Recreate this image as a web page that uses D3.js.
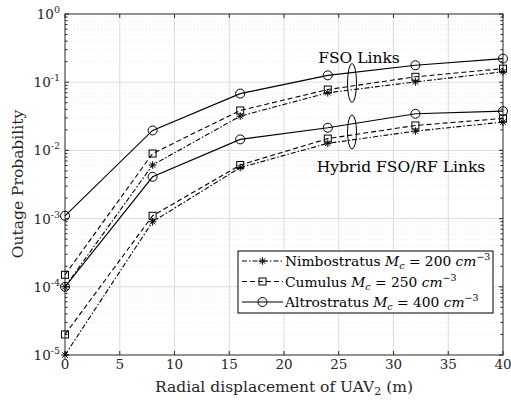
<!DOCTYPE html>
<html lang="en">
<head>
<meta charset="UTF-8">
<title>Outage Probability vs Radial Displacement</title>
<style>
    body { margin: 0; padding: 0; background: #fff; }
    svg { display: block; }
    svg text { font-family: "DejaVu Serif", serif; }
    .grid-major line { stroke: #dcdcdc; stroke-width: 1; }
    .grid-minor line { stroke: #e4e4e4; stroke-width: 0.8; stroke-dasharray: 1,2; }
    .series { fill: none; stroke: #000; stroke-width: 1.1; }
</style>
</head>
<body>
<svg id="chart" width="511" height="406"></svg>
<script src="https://d3js.org/d3.v7.min.js"></script>
<script>
// data
const displacement = [0, 8, 16, 24, 32, 40];

const fsoNimbo   = [1.0e-4, 0.0061, 0.0318, 0.070, 0.101, 0.142];
const fsoCumulus = [1.5e-4, 0.0090, 0.0385, 0.078, 0.120, 0.158];
const fsoAltro   = [1.1e-3, 0.0196, 0.068,  0.126, 0.177, 0.222];

const hybNimbo   = [1.0e-5, 9.0e-4, 0.0056, 0.0127, 0.0192, 0.026];
const hybCumulus = [2.0e-5, 1.1e-3, 0.0061, 0.0149, 0.0232, 0.0294];
const hybAltro   = [1.0e-4, 0.0041, 0.0145, 0.0215, 0.0344, 0.0376];

const xTicks = [0, 5, 10, 15, 20, 25, 30, 35, 40];
const yExps = [0, -1, -2, -3, -4, -5];

const styles = {
    nimbo:   { dash: "5,2,1.5,2", marker: "star" },
    cumulus: { dash: "5,3",       marker: "square" },
    altro:   { dash: null,        marker: "circle" }
};

const series = [
    { values: fsoNimbo,   style: "nimbo" },
    { values: fsoCumulus, style: "cumulus" },
    { values: fsoAltro,   style: "altro" },
    { values: hybNimbo,   style: "nimbo" },
    { values: hybCumulus, style: "cumulus" },
    { values: hybAltro,   style: "altro" }
];

const legendItems = [
    { name: "Nimbostratus", mc: "200", style: "nimbo" },
    { name: "Cumulus", mc: "250", style: "cumulus" },
    { name: "Altrostratus", mc: "400", style: "altro" }
];

const svg = d3.select("#chart");
const L = 65, R = 503, T = 14, B = 355;

const x = d3.scaleLinear().domain([0, 40]).range([L, R]);
const y = d3.scaleLog().domain([1e-5, 1]).range([B, T]);

// grids
const minorVals = [];
for (let e = -5; e < 0; e++) {
    for (let k = 2; k <= 9; k++) minorVals.push(k * Math.pow(10, e));
}
svg.append("g").attr("class", "grid-minor")
    .selectAll("line").data(minorVals).enter().append("line")
    .attr("x1", L).attr("x2", R)
    .attr("y1", d => y(d)).attr("y2", d => y(d));

svg.append("g").attr("class", "grid-major")
    .selectAll("line").data(xTicks.slice(1, -1)).enter().append("line")
    .attr("x1", d => x(d)).attr("x2", d => x(d))
    .attr("y1", T).attr("y2", B);
svg.append("g").attr("class", "grid-major")
    .selectAll("line").data(yExps.slice(1, -1)).enter().append("line")
    .attr("x1", L).attr("x2", R)
    .attr("y1", d => y(Math.pow(10, d))).attr("y2", d => y(Math.pow(10, d)));

// box + inward ticks
const axisG = svg.append("g").attr("stroke", "#262626").attr("stroke-width", 1);
axisG.append("rect").attr("x", L).attr("y", T).attr("width", R - L).attr("height", B - T)
    .attr("fill", "none");
xTicks.forEach(t => {
    axisG.append("line").attr("x1", x(t)).attr("x2", x(t)).attr("y1", B).attr("y2", B - 4);
    axisG.append("line").attr("x1", x(t)).attr("x2", x(t)).attr("y1", T).attr("y2", T + 4);
});
yExps.forEach(e => {
    const yy = y(Math.pow(10, e));
    axisG.append("line").attr("x1", L).attr("x2", L + 4).attr("y1", yy).attr("y2", yy);
    axisG.append("line").attr("x1", R).attr("x2", R - 4).attr("y1", yy).attr("y2", yy);
});
minorVals.forEach(v => {
    axisG.append("line").attr("x1", L).attr("x2", L + 2.5).attr("y1", y(v)).attr("y2", y(v));
    axisG.append("line").attr("x1", R).attr("x2", R - 2.5).attr("y1", y(v)).attr("y2", y(v));
});

// tick labels
svg.append("g").selectAll("text").data(xTicks).enter().append("text")
    .attr("x", d => x(d)).attr("y", 369)
    .attr("text-anchor", "middle").attr("font-size", 13.5).attr("fill", "#262626")
    .text(d => d);

const yl = svg.append("g").selectAll("text").data(yExps).enter().append("text")
    .attr("x", L - 5).attr("y", d => y(Math.pow(10, d)) + 5)
    .attr("text-anchor", "end").attr("font-size", 13.5).attr("fill", "#262626");
yl.append("tspan").text("10");
yl.append("tspan").attr("dy", -6).attr("font-size", 9.5).text(d => d);

// axis titles
svg.append("text").attr("x", 284).attr("y", 392)
    .attr("text-anchor", "middle").attr("font-size", 15.5).attr("fill", "#262626")
    .call(t => {
        t.append("tspan").text("Radial displacement of UAV");
        t.append("tspan").attr("dy", 3).attr("font-size", 11).text("2");
        t.append("tspan").attr("dy", -3).text(" (m)");
    });
svg.append("text").attr("transform", `translate(23,184) rotate(-90)`)
    .attr("text-anchor", "middle").attr("font-size", 15.5).attr("fill", "#262626")
    .text("Outage Probability");

// markers
function drawMarker(g, kind, cx, cy) {
    if (kind === "circle") {
        g.append("circle").attr("cx", cx).attr("cy", cy).attr("r", 4.5)
            .attr("fill", "none").attr("stroke", "#000").attr("stroke-width", 1);
    } else if (kind === "square") {
        g.append("rect").attr("x", cx - 3.5).attr("y", cy - 3.5).attr("width", 7).attr("height", 7)
            .attr("fill", "none").attr("stroke", "#000").attr("stroke-width", 1);
    } else {
        const r = 3.8;
        const p = [];
        for (let i = 0; i < 4; i++) {
            const a = i * Math.PI / 4;
            p.push(`M${cx - r * Math.cos(a)},${cy - r * Math.sin(a)}L${cx + r * Math.cos(a)},${cy + r * Math.sin(a)}`);
        }
        g.append("path").attr("d", p.join("")).attr("stroke", "#000").attr("stroke-width", 1);
    }
}

const line = d3.line().x((d, i) => x(displacement[i])).y(d => y(d));
series.forEach(s => {
    const st = styles[s.style];
    svg.append("path").datum(s.values).attr("class", "series").attr("d", line)
        .attr("stroke-dasharray", st.dash);
    const mg = svg.append("g");
    s.values.forEach((v, i) => drawMarker(mg, st.marker, x(displacement[i]), y(v)));
});

// annotations
svg.append("text").attr("x", 359).attr("y", 63).attr("text-anchor", "middle")
    .attr("font-size", 15.5).attr("fill", "#000").text("FSO Links");
svg.append("ellipse").attr("cx", 352).attr("cy", 83).attr("rx", 4.5).attr("ry", 19.5)
    .attr("fill", "none").attr("stroke", "#000").attr("stroke-width", 1);
svg.append("ellipse").attr("cx", 352).attr("cy", 132).attr("rx", 4.5).attr("ry", 17)
    .attr("fill", "none").attr("stroke", "#000").attr("stroke-width", 1);
svg.append("text").attr("x", 401).attr("y", 172).attr("text-anchor", "middle")
    .attr("font-size", 15.5).attr("fill", "#000").text("Hybrid FSO/RF Links");

// legend
const lg = svg.append("g");
lg.append("rect").attr("x", 238).attr("y", 251).attr("width", 255).attr("height", 62)
    .attr("fill", "#fff").attr("stroke", "#000").attr("stroke-width", 1);
legendItems.forEach((it, i) => {
    const yy = 261 + i * 20.5;
    const st = styles[it.style];
    lg.append("line").attr("x1", 242).attr("x2", 283).attr("y1", yy).attr("y2", yy)
        .attr("stroke", "#000").attr("stroke-width", 1.1).attr("stroke-dasharray", st.dash);
    drawMarker(lg, st.marker, 262.5, yy);
    const t = lg.append("text").attr("x", 285).attr("y", yy + 5).attr("font-size", 13.8).attr("fill", "#000");
    t.append("tspan").text(it.name + " ");
    t.append("tspan").attr("font-style", "italic").text("M");
    t.append("tspan").attr("font-style", "italic").attr("font-size", 9.5).attr("dy", 3).text("c");
    t.append("tspan").attr("dy", -3).text(" = " + it.mc + " ");
    t.append("tspan").attr("font-style", "italic").text("cm");
    t.append("tspan").attr("font-size", 9.5).attr("dy", -6).text("\u22123");
});
</script>
</body>
</html>
